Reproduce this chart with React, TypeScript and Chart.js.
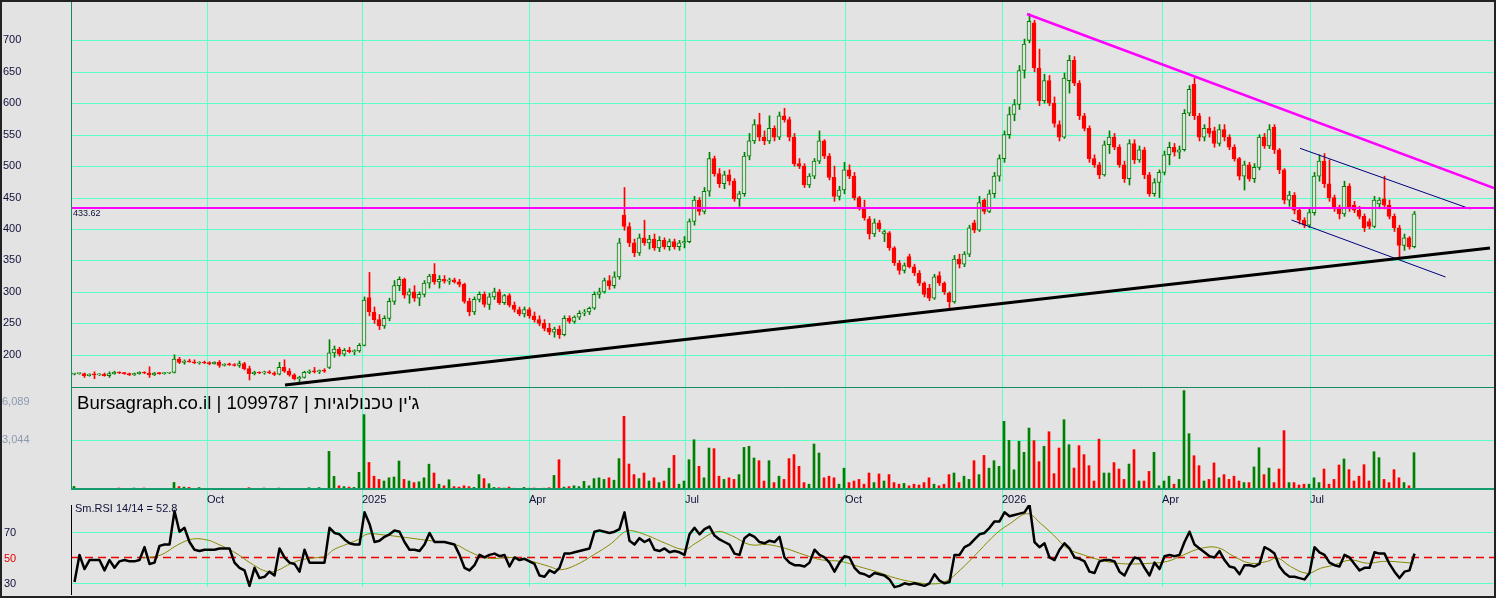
import React, { useEffect, useRef } from 'react';
import { Chart, registerables } from 'chart.js';
Chart.register(...registerables);

// ---------- data ----------
const MONTH_LABELS = ['Oct', '2025', 'Apr', 'Jul', 'Oct', '2026', 'Apr', 'Jul'];
const MONTH_AT = [26.5, 57.5, 90.9, 122.1, 154.1, 185.5, 217.5, 247.1];
const PRICE_TICKS = [200, 250, 300, 350, 400, 450, 500, 550, 600, 650, 700];
const VOL_TICKS = [6089, 3044];
const VOL_TICK_LABELS = ['6,089', '3,044'];
const RSI_TICKS = [70, 30];
const RSI_MID = 50;
const LEVEL = 433.62;
const TITLE = "Bursagraph.co.il | 1099787 | ג'ין טכנולוגיות";
const RSI_TITLE = 'Sm.RSI 14/14 = 52.8';

// [open, high, low, close]
const CANDLES: number[][] = [
  [169,171,168,170],[170,171,169,170],[170,171,164,167],[167,170,166,169],[169,173,162,168],[168,170,167,169],[169,171,166,167],[167,173,164,170],[170,174,169,172],[172,173,170,171],
  [171,172,169,170],[170,171,167,168],[168,171,167,170],[170,173,169,172],[172,173,170,171],[171,181,164,168],[168,172,167,171],[171,172,169,170],[170,172,169,171],[171,172,170,171],
  [172,200,171,193],[193,196,186,188],[188,192,185,190],[190,193,188,189],[189,192,186,187],[187,189,185,188],[188,190,186,187],[187,189,184,186],[186,189,185,188],[188,191,180,183],
  [183,186,182,185],[185,187,183,184],[184,186,182,183],[183,190,180,186],[186,188,176,178],[178,182,160,170],[170,174,168,172],[172,173,170,171],[171,174,169,173],[173,175,170,171],
  [171,173,167,169],[169,188,168,180],[180,192,172,174],[174,178,166,168],[168,170,160,162],[162,166,155,164],[164,174,163,172],[172,176,170,174],[174,180,171,173],[173,176,170,175],
  [175,178,172,174],[180,224,178,203],[203,214,196,209],[209,212,198,201],[201,210,198,207],[207,212,203,205],[205,208,200,206],[206,218,204,215],[215,292,214,287],[291,331,262,268],
  [268,276,250,256],[256,264,240,246],[246,262,242,258],[258,290,254,285],[285,318,280,310],[310,324,302,320],[320,322,290,295],[295,305,282,300],[300,310,285,290],[290,300,278,296],
  [296,318,292,314],[314,328,306,325],[328,345,312,316],[316,326,306,320],[320,326,314,317],[317,322,312,319],[319,322,314,316],[316,320,308,312],[312,314,282,285],[285,290,262,268],
  [268,292,264,288],[288,300,284,296],[296,300,276,280],[280,298,272,292],[292,306,288,300],[300,304,280,283],[283,296,280,294],[294,297,276,279],[279,284,268,272],[272,276,262,265],
  [265,276,260,272],[272,275,258,262],[262,268,252,256],[256,262,246,250],[250,256,238,242],[242,250,232,236],[236,244,228,241],[241,246,226,232],[232,262,230,258],[258,262,250,253],
  [253,262,250,260],[260,270,256,266],[266,272,262,268],[268,276,264,274],[274,300,272,296],[296,306,290,300],[300,322,298,318],[318,326,304,310],[310,332,306,324],[324,385,320,378],
  [422,466,398,404],[404,410,372,378],[378,384,356,362],[362,392,358,386],[386,414,374,378],[378,390,368,384],[384,392,366,370],[370,388,364,382],[382,386,368,372],[372,384,366,380],
  [380,384,368,372],[372,382,366,378],[378,388,370,380],[380,416,378,412],[412,452,406,446],[446,450,422,428],[428,466,424,460],[460,522,452,512],[512,516,484,488],[488,496,466,472],
  [472,492,464,486],[486,494,470,476],[476,480,444,448],[448,460,436,456],[456,522,452,516],[516,552,510,540],[540,574,536,566],[566,584,540,546],[546,556,534,540],[540,580,536,560],
  [560,564,540,546],[546,586,542,580],[580,592,570,574],[574,578,540,546],[546,552,500,504],[504,512,496,500],[500,504,466,470],[470,488,466,484],[484,512,480,508],[508,556,504,540],
  [540,542,512,516],[516,520,478,482],[482,500,444,452],[452,468,446,462],[462,506,456,494],[494,502,480,484],[484,490,446,450],[450,452,430,434],[434,446,414,418],[416,420,384,392],
  [392,416,388,410],[410,414,396,400],[392,398,380,396],[394,396,366,370],[370,372,342,346],[346,350,328,334],[334,346,330,342],[356,360,338,340],[340,344,326,330],[330,334,310,314],
  [314,316,292,296],[306,312,286,290],[290,328,288,324],[326,332,310,314],[314,316,296,300],[298,300,271,284],[284,358,282,352],[352,360,338,344],[344,364,340,360],[360,406,356,402],
  [410,414,394,398],[398,452,396,442],[446,448,424,428],[428,462,426,456],[456,490,450,484],[484,518,476,512],[512,556,506,550],[550,594,544,582],[582,606,572,598],[598,660,590,652],
  [652,702,640,694],[700,742,696,730],[728,732,650,656],[656,686,596,604],[604,646,600,636],[636,644,596,600],[600,610,562,568],[566,572,540,546],[546,648,544,640],[636,676,616,668],
  [668,674,628,632],[632,636,574,580],[580,584,556,560],[560,564,506,512],[512,518,498,502],[502,506,480,486],[486,540,484,534],[534,556,520,546],[546,552,526,530],[530,534,498,502],
  [502,508,474,480],[480,542,470,536],[536,542,504,510],[510,532,506,526],[526,530,480,486],[486,490,452,456],[456,480,452,474],[474,494,450,490],[490,524,486,518],[518,538,502,530],
  [530,536,516,522],[522,532,512,526],[526,590,524,584],[584,628,580,622],[630,640,574,580],[580,584,540,546],[546,566,540,560],[560,578,546,552],[556,562,530,536],[536,566,532,558],
  [558,566,540,546],[546,550,526,530],[530,534,508,512],[512,514,478,484],[484,508,462,502],[502,506,476,480],[480,504,474,498],[498,550,494,546],[546,552,528,532],[532,566,528,558],
  [562,566,520,526],[526,528,488,494],[494,496,440,446],[446,460,436,454],[454,458,424,430],[430,434,408,414],[414,418,402,406],[406,432,402,426],[426,490,422,484],[484,518,476,508],
  [508,520,466,472],[472,510,444,450],[450,454,428,434],[434,438,416,424],[424,476,420,468],[468,472,428,434],[438,444,426,430],[430,436,416,420],[420,424,396,402],[412,416,400,404],
  [404,452,402,446],[440,450,432,446],[448,484,432,438],[438,446,416,420],[420,424,396,402],[402,406,356,374],[374,392,366,386],[386,388,368,372],[372,428,370,424],
];

const VOLUME: number[] = [
  160,0,0,0,0,0,0,0,0,60,
  0,0,60,0,60,0,0,0,0,0,
  410,150,120,100,0,90,0,0,0,0,
  0,0,0,0,0,80,0,0,60,0,
  0,60,0,0,0,0,0,80,0,90,
  0,2350,790,200,150,120,100,1040,4650,1660,
  800,600,500,700,750,1750,600,500,400,450,
  700,1550,1000,300,200,580,150,120,200,150,
  100,900,650,330,100,80,60,120,50,40,
  100,50,60,40,50,80,850,1830,120,150,
  200,150,480,200,650,700,600,700,550,1900,
  4540,1560,900,650,1000,500,700,400,500,1300,
  2100,300,500,1830,3080,1420,700,2560,2520,800,
  600,700,600,900,2600,2670,1940,1770,500,1770,
  400,800,600,1900,2150,1420,400,300,2810,2250,
  700,800,700,300,1300,400,500,600,300,1000,
  400,940,500,900,400,300,350,200,300,250,
  400,700,300,200,300,900,1000,400,800,600,
  1770,900,2100,1300,1770,1420,4230,3040,1200,2980,
  2290,3810,3020,1710,2670,3580,960,2560,4330,2770,
  1310,2710,2150,1460,500,3120,1000,1000,1650,1250,
  600,1560,2460,500,500,1100,2290,200,500,800,
  300,600,6150,3460,2080,1460,500,600,1630,700,
  900,600,800,500,400,400,1380,2580,900,1310,
  400,1250,3650,400,400,250,300,300,700,400,
  1250,300,600,1500,1880,1210,500,800,1520,500,
  2330,1960,600,400,1210,700,400,200,2270,
];

const RSI: number[] = [
  31,52,41,48,48,48,40,48,42,47,
  48,47,47,48,58,45,46,59,60,60,
  86,70,73,62,56,55,56,56,56,57,
  57,57,46,42,40,28,42,34,35,39,
  36,57,50,46,45,39,56,46,46,46,
  46,73,69,68,64,61,60,60,85,76,
  62,63,66,68,71,70,62,56,56,55,
  60,69,62,62,62,61,60,52,42,40,
  44,52,50,52,53,51,52,43,50,48,
  49,47,45,36,35,40,38,42,53,53,
  54,55,56,57,70,71,70,69,70,72,
  85,63,60,65,62,64,56,55,57,54,
  55,54,52,68,73,68,72,74,67,64,
  62,60,53,52,65,68,66,62,61,63,
  62,66,50,46,44,44,43,46,56,52,
  50,46,39,46,51,50,42,38,37,35,
  38,37,36,33,27,28,30,29,30,29,
  28,30,37,32,30,31,52,52,58,60,
  64,68,69,73,78,78,85,82,83,84,
  85,91,62,58,61,50,48,56,61,57,
  50,49,47,39,38,47,48,48,47,39,
  36,44,50,49,42,36,46,41,51,52,
  51,52,62,70,60,57,54,51,50,55,
  48,43,42,37,44,44,43,45,58,56,
  53,43,38,35,35,34,33,38,58,54,
  52,46,44,43,52,50,45,40,42,42,
  54,53,53,45,39,34,39,40,53,
];

const SIGNAL_AT = [13.8,17.2,20.6,23.6,26.6,28.6,31.8,35.8,38.6,40.6,42.6,45.2,47.8,50.2,51.8,54.6,56.8,58.6,61.8,65.2,69.2,71.8,76.2,79,82.6,87.8,91.4,95,97.2,100.2,103.8,107.4,109.6,111,114.6,118.2,122,124.2,128.4,131.4,135,138.6,142.2,146,149.6,153.2,156.8,160.4,164.2,167.8,171.4,174.2,177.2,180.8,184.4,187.2,190.6,193.2,195.8,198.6,201.8,205.2,208.6,211.8,215.2,218.6,221.8,225.2,228.6,231.8,235.2,238.6,240.6,243.2,246.6,249.2,251.8,255.2,258.6,261.8,265.2,267.8];
const SIGNAL = [49.6,51.8,59.7,64.3,63.5,60.5,54.5,44.2,39,40,44,48,49.6,51,56,60.5,64,68.2,67.5,66,64,62.7,60,54.5,49.4,50,47,43,40.5,44,52,61,68.7,71,67,61,56.3,61,70,67,60,60,57,52,48,47,43,39,34,31,29.5,31.4,40.5,54.5,68.7,76.5,84,76.5,67.4,57,52,48,45.5,45,45.5,47,52,57,57.7,51,45.5,47,49.6,43,37.7,41.6,44,48,45.5,47,46.4,45.5];

// trend lines: [bar index, price]
const SUPPORT_LINE = [[42.1, 152.0], [283.1, 369.8]];
const RESIST_LINE = [[190.5, 741.8], [283.9, 465.2]];
const CHANNEL_UP = [[245.1, 528.3], [279.2, 431.8]];
const CHANNEL_LOW = [[243.4, 414.3], [274.2, 323.7]];

// ---------- styles ----------
const BG = '#e3e3e3';
const GRID = '#5cffc4';
const GREEN = '#008000';
const RED = '#ff0000';
const MAGENTA = '#ff00ff';
const NAVY = '#000080';
const TEXT = '#10103a';
const FONT = "Arial, 'Liberation Sans', sans-serif";
const X_MIN = -0.5;
const X_MAX = 283.9;

const isUp = (c: number[]) => c[3] >= c[0];
const toPts = (arr: number[][]) => arr.map((p) => ({ x: p[0], y: p[1] }));

const bgPlugin = {
  id: 'bgFill',
  beforeDraw(chart: any) {
    const { ctx, width, height } = chart;
    ctx.save();
    ctx.fillStyle = BG;
    ctx.fillRect(0, 0, width, height);
    ctx.restore();
  },
};

function vGrid(chart: any, top: number, bottom: number) {
  const { ctx, scales } = chart;
  ctx.beginPath();
  for (const m of MONTH_AT) {
    const px = Math.round(scales.x.getPixelForValue(m)) + 0.5;
    ctx.moveTo(px, top);
    ctx.lineTo(px, bottom);
  }
  ctx.stroke();
}

const pricePlugin = {
  id: 'pricePanel',
  beforeDatasetsDraw(chart: any) {
    const { ctx, chartArea: a, scales } = chart;
    ctx.save();
    ctx.strokeStyle = GRID;
    ctx.lineWidth = 1;
    ctx.beginPath();
    for (const t of PRICE_TICKS) {
      const py = Math.round(scales.y.getPixelForValue(t)) + 0.5;
      ctx.moveTo(a.left, py);
      ctx.lineTo(a.right, py);
    }
    ctx.stroke();
    vGrid(chart, a.top, a.bottom);
    ctx.strokeStyle = '#138a62';
    ctx.beginPath();
    ctx.moveTo(a.left - 0.5, a.top);
    ctx.lineTo(a.left - 0.5, a.bottom);
    ctx.stroke();
    ctx.restore();
  },
  afterDatasetsDraw(chart: any) {
    const { ctx, chartArea: a, scales } = chart;
    ctx.save();
    const ly = Math.round(scales.y.getPixelForValue(LEVEL));
    ctx.strokeStyle = MAGENTA;
    ctx.lineWidth = 2;
    ctx.beginPath();
    ctx.moveTo(a.left, ly);
    ctx.lineTo(a.right, ly);
    ctx.stroke();
    ctx.fillStyle = TEXT;
    ctx.textBaseline = 'middle';
    ctx.font = `9px ${FONT}`;
    ctx.fillText(LEVEL.toFixed(2), a.left + 1, ly + 6);
    ctx.font = `11px ${FONT}`;
    for (const t of PRICE_TICKS) {
      ctx.fillText(String(t), 3, scales.y.getPixelForValue(t));
    }
    ctx.restore();
  },
};

const volPlugin = {
  id: 'volPanel',
  beforeDatasetsDraw(chart: any) {
    const { ctx, chartArea: a, scales } = chart;
    ctx.save();
    ctx.strokeStyle = GRID;
    ctx.lineWidth = 1;
    ctx.beginPath();
    const gy = Math.round(scales.y.getPixelForValue(VOL_TICKS[1])) + 0.5;
    ctx.moveTo(a.left, gy);
    ctx.lineTo(a.right, gy);
    ctx.stroke();
    vGrid(chart, a.top, a.bottom);
    ctx.restore();
  },
  afterDatasetsDraw(chart: any) {
    const { ctx, chartArea: a, scales } = chart;
    ctx.save();
    ctx.strokeStyle = '#138a62';
    ctx.lineWidth = 1;
    ctx.beginPath();
    ctx.moveTo(a.left - 1, 0.5);
    ctx.lineTo(a.right, 0.5);
    ctx.moveTo(a.left - 0.5, 0);
    ctx.lineTo(a.left - 0.5, a.bottom);
    ctx.stroke();
    ctx.fillStyle = '#149a6c';
    ctx.fillRect(a.left - 1, a.bottom - 1, a.right - a.left + 1, 3);
    ctx.fillStyle = '#8a9ab0';
    ctx.font = `11px ${FONT}`;
    ctx.textBaseline = 'middle';
    VOL_TICKS.forEach((t, k) => {
      const py = Math.max(scales.y.getPixelForValue(t), a.top + 14);
      ctx.fillText(VOL_TICK_LABELS[k], 2, py);
    });
    ctx.fillStyle = '#000000';
    ctx.font = `18.6px ${FONT}`;
    ctx.fillText(TITLE, a.left + 5, 17);
    ctx.restore();
  },
};

const rsiPlugin = {
  id: 'rsiPanel',
  beforeDatasetsDraw(chart: any) {
    const { ctx, chartArea: a, scales } = chart;
    ctx.save();
    ctx.strokeStyle = GRID;
    ctx.lineWidth = 1;
    ctx.beginPath();
    for (const t of RSI_TICKS) {
      const py = Math.round(scales.y.getPixelForValue(t)) + 0.5;
      ctx.moveTo(a.left, py);
      ctx.lineTo(a.right, py);
    }
    ctx.stroke();
    vGrid(chart, 0, a.bottom - 8);
    const my = Math.round(scales.y.getPixelForValue(RSI_MID)) + 0.5;
    ctx.strokeStyle = '#ee0000';
    ctx.lineWidth = 1.5;
    ctx.setLineDash([8, 5]);
    ctx.beginPath();
    ctx.moveTo(a.left, my);
    ctx.lineTo(a.right, my);
    ctx.stroke();
    ctx.setLineDash([]);
    ctx.restore();
  },
  afterDraw(chart: any) {
    const { ctx, chartArea: a, scales } = chart;
    ctx.save();
    ctx.strokeStyle = '#000000';
    ctx.lineWidth = 1;
    ctx.beginPath();
    ctx.moveTo(a.left - 0.5, a.top);
    ctx.lineTo(a.left - 0.5, a.bottom);
    ctx.stroke();
    ctx.font = `11px ${FONT}`;
    ctx.textBaseline = 'middle';
    ctx.fillStyle = TEXT;
    MONTH_AT.forEach((m, k) => {
      const px = Math.round(scales.x.getPixelForValue(m));
      ctx.fillText(MONTH_LABELS[k], px, 10);
    });
    ctx.fillText(RSI_TITLE, a.left + 3, 19);
    for (const t of RSI_TICKS) ctx.fillText(String(t), 4, scales.y.getPixelForValue(t) + 1);
    ctx.fillStyle = '#e00000';
    ctx.fillText(String(RSI_MID), 4, scales.y.getPixelForValue(RSI_MID) + 1);
    ctx.restore();
  },
};

const baseOptions = (padding: any, xMin: number, xMax: number, yMin: number, yMax: number) => ({
  responsive: false,
  animation: false as const,
  events: [] as any[],
  layout: { padding },
  plugins: { legend: { display: false }, tooltip: { enabled: false } },
  scales: {
    x: { type: 'linear' as const, min: xMin, max: xMax, display: false, offset: false },
    y: { type: 'linear' as const, min: yMin, max: yMax, display: false },
  } as any,
});

function priceConfig(): any {
  const lineDs = (pts: number[][], color: string, w: number) => ({
    type: 'line',
    data: toPts(pts),
    borderColor: color,
    borderWidth: w,
    pointRadius: 0,
    order: 1,
  });
  const options: any = baseOptions({ left: 72, right: 2, top: 0, bottom: 1 }, X_MIN, X_MAX, 148.8, 764.1);
  // bodies use an axis shifted by half a pixel so 4px bodies stay crisp
  options.scales.xb = { type: 'linear', min: X_MIN + 0.1, max: X_MAX + 0.1, display: false, offset: false };
  return {
    type: 'bar',
    data: {
      datasets: [
        lineDs(SUPPORT_LINE, '#000000', 3),
        lineDs(RESIST_LINE, MAGENTA, 2.5),
        lineDs(CHANNEL_UP, NAVY, 1),
        lineDs(CHANNEL_LOW, NAVY, 1),
        {
          type: 'bar',
          data: CANDLES.map((c, i) => ({ x: i, y: [c[2], c[1]] })),
          backgroundColor: CANDLES.map((c) => (isUp(c) ? GREEN : RED)),
          barThickness: 1,
          grouped: false,
          order: 3,
        },
        {
          type: 'bar',
          xAxisID: 'xb',
          data: CANDLES.map((c, i) => ({ x: i, y: [Math.min(c[0], c[3]), Math.max(c[0], c[3])] })),
          backgroundColor: CANDLES.map((c) => (isUp(c) ? BG : RED)),
          borderColor: CANDLES.map((c) => (isUp(c) ? GREEN : RED)),
          borderWidth: 1,
          borderSkipped: false,
          barThickness: 4,
          minBarLength: 1,
          grouped: false,
          order: 2,
        },
      ],
    },
    options,
    plugins: [bgPlugin, pricePlugin],
  };
}

function volConfig(): any {
  return {
    type: 'bar',
    data: {
      datasets: [
        {
          data: VOLUME.map((v, i) => ({ x: i, y: v })),
          backgroundColor: CANDLES.map((c) => (isUp(c) ? GREEN : RED)),
          barThickness: 2,
          grouped: false,
        },
      ],
    },
    options: baseOptions({ left: 72, right: 2, top: 1, bottom: 1 }, X_MIN + 0.1, X_MAX + 0.1, 0, 6313),
    plugins: [bgPlugin, volPlugin],
  };
}

function rsiConfig(): any {
  return {
    type: 'line',
    data: {
      datasets: [
        {
          data: RSI.map((v, i) => ({ x: i, y: v })),
          borderColor: '#000000',
          borderWidth: 2.5,
          pointRadius: 0,
          borderJoinStyle: 'round',
          order: 1,
        },
        {
          data: SIGNAL.map((v, k) => ({ x: SIGNAL_AT[k], y: v })),
          borderColor: '#8a8a00',
          borderWidth: 1,
          pointRadius: 0,
          tension: 0.4,
          order: 2,
        },
      ],
    },
    options: baseOptions({ left: 72, right: 2, top: 15, bottom: 3 }, X_MIN, X_MAX, 20.9, 90.7),
    plugins: [bgPlugin, rsiPlugin],
  };
}

export default function App() {
  const priceRef = useRef<HTMLCanvasElement>(null);
  const volRef = useRef<HTMLCanvasElement>(null);
  const rsiRef = useRef<HTMLCanvasElement>(null);

  useEffect(() => {
    document.body.style.margin = '0';
    const charts: Chart[] = [];
    if (priceRef.current) charts.push(new Chart(priceRef.current, priceConfig()));
    if (volRef.current) charts.push(new Chart(volRef.current, volConfig()));
    if (rsiRef.current) charts.push(new Chart(rsiRef.current, rsiConfig()));
    return () => charts.forEach((c) => c.destroy());
  }, []);

  return (
    <div style={{ position: 'relative', width: 1496, height: 598, background: BG, overflow: 'hidden' }}>
      <canvas ref={priceRef} width={1496} height={388} style={{ position: 'absolute', left: 0, top: 0, width: 1496, height: 388 }} />
      <canvas ref={volRef} width={1496} height={103} style={{ position: 'absolute', left: 0, top: 387, width: 1496, height: 103 }} />
      <canvas ref={rsiRef} width={1496} height={108} style={{ position: 'absolute', left: 0, top: 490, width: 1496, height: 108 }} />
      <div style={{ position: 'absolute', left: 0, top: 0, width: 1496, height: 598, boxSizing: 'border-box', border: '2px solid #222', pointerEvents: 'none' }} />
    </div>
  );
}
